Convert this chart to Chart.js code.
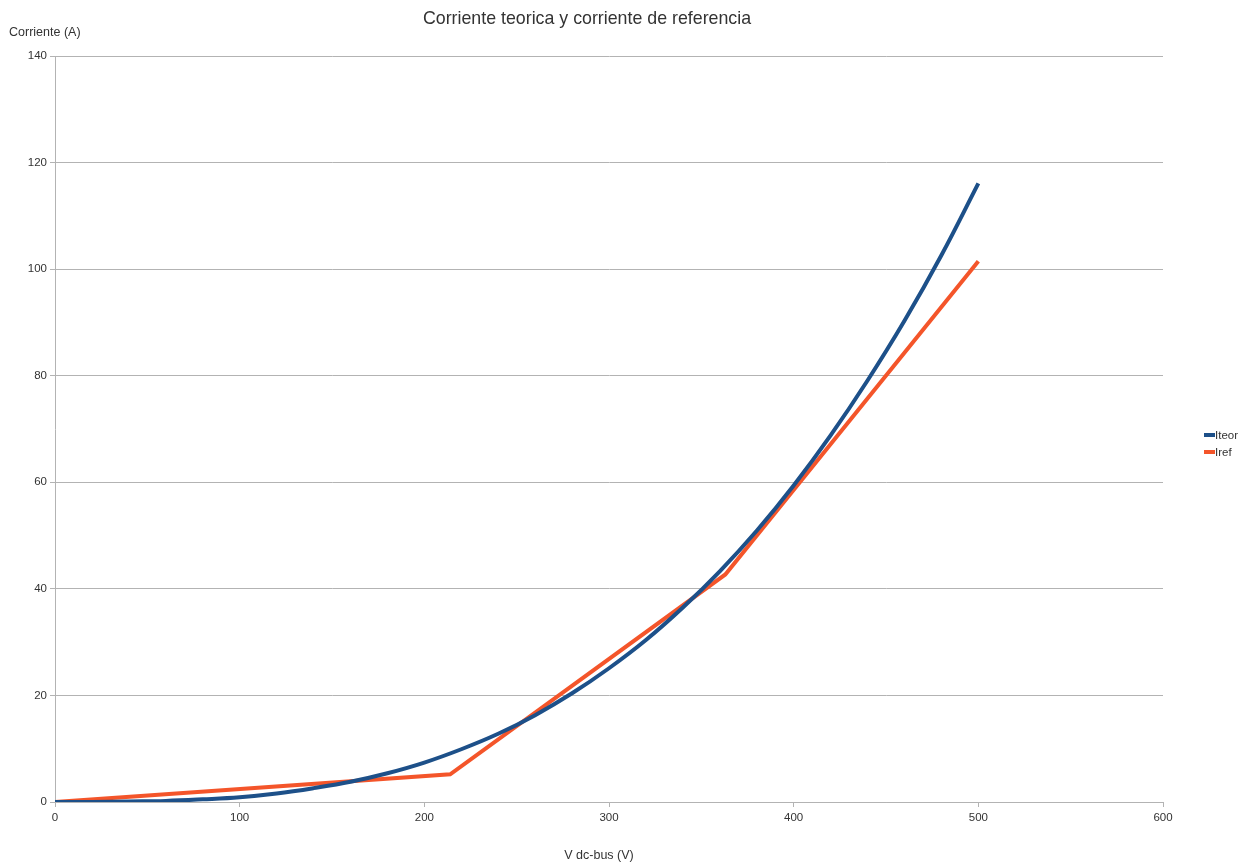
<!DOCTYPE html>
<html>
<head>
<meta charset="utf-8">
<script src="https://cdn.jsdelivr.net/npm/chart.js@4/dist/chart.umd.min.js"></script>
<style>
  html, body { margin: 0; padding: 0; background: #fff; }
  #wrap { width: 1247px; height: 863px; position: relative; }
</style>
</head>
<body>
<div id="wrap"><canvas id="chart" width="1247" height="863"></canvas></div>
<script>
/* ============================
   DATA
   ============================ */

const iteorX = [0, 20, 40, 60, 80, 100, 120, 140, 160, 180, 200, 220, 240,
                260, 280, 300, 320, 340, 360, 380, 400, 420, 440, 460, 480, 500];
const iteorY = [0, 0, 0.1, 0.2, 0.5, 0.9, 1.6, 2.6, 3.8, 5.4, 7.4, 9.9, 12.8,
                16.3, 20.4, 25.1, 30.4, 36.5, 43.3, 50.9, 59.4, 68.8, 79.1, 90.3, 102.6, 116.1];

const irefX = [0, 214, 363, 500];
const irefY = [0, 5.2, 42.7, 101.5];

const seriesNames = ["Iteor", "Iref"];
const seriesColors = ["#1d5089", "#f4552a"];

const xTicks = [0, 100, 200, 300, 400, 500, 600];
const yTicks = [0, 20, 40, 60, 80, 100, 120, 140];

const titleText = "Corriente teorica y corriente de referencia";
const yTitle = "Corriente (A)";
const xTitle = "V dc-bus (V)";

/* ============================
   HELPERS
   ============================ */

function toPoints(xs, ys) {
  return xs.map((x, i) => ({ x: x, y: ys[i] }));
}

const FONT = "'Liberation Sans', Arial, sans-serif";

// texts and legend drawn by hand (LibreOffice style layout)
const decorPlugin = {
  id: "decor",
  afterDraw(chart) {
    const ctx = chart.ctx;
    ctx.save();
    ctx.fillStyle = "#333";
    ctx.textBaseline = "middle";

    ctx.font = "17.8px " + FONT;
    ctx.textAlign = "center";
    ctx.fillText(titleText, 587, 19);

    ctx.font = "12.5px " + FONT;
    ctx.textAlign = "left";
    ctx.fillText(yTitle, 9, 33);

    ctx.textAlign = "center";
    ctx.fillText(xTitle, 599, 856);

    // legend
    ctx.font = "11.5px " + FONT;
    ctx.textAlign = "left";
    seriesNames.forEach((name, i) => {
      const y = 435 + i * 17;
      ctx.strokeStyle = seriesColors[i];
      ctx.lineWidth = 4;
      ctx.beginPath();
      ctx.moveTo(1204, y);
      ctx.lineTo(1215, y);
      ctx.stroke();
      ctx.fillStyle = "#333";
      ctx.fillText(name, 1215, y + 1);
    });
    ctx.restore();
  }
};

/* ============================
   CHART SETUP
   ============================ */

const ctx = document.getElementById("chart").getContext("2d");

const chart = new Chart(ctx, {
  type: "scatter",
  data: {
    datasets: [
      {
        label: seriesNames[0],
        data: toPoints(iteorX, iteorY),
        borderColor: seriesColors[0],
        backgroundColor: seriesColors[0],
        borderWidth: 4,
        showLine: true,
        pointRadius: 0,
        tension: 0.4,
        order: 1
      },
      {
        label: seriesNames[1],
        data: toPoints(irefX, irefY),
        borderColor: seriesColors[1],
        backgroundColor: seriesColors[1],
        borderWidth: 4,
        showLine: true,
        pointRadius: 0,
        tension: 0,
        order: 2
      }
    ]
  },
  options: {
    responsive: false,
    animation: false,
    layout: { padding: { top: 56, right: 84, left: 0, bottom: 0 } },
    plugins: {
      legend: { display: false },
      title: { display: false },
      tooltip: { enabled: false }
    },
    scales: {
      x: {
        type: "linear",
        min: 0,
        max: 600,
        afterFit(scale) { scale.height = 61; },
        afterBuildTicks(scale) { scale.ticks = xTicks.map(v => ({ value: v })); },
        grid: { display: true, drawOnChartArea: false, drawTicks: true, tickLength: 5, color: "#b3b3b3" },
        border: { color: "#b3b3b3" },
        ticks: { color: "#333", font: { family: FONT, size: 11.5 }, padding: 4, maxRotation: 0 }
      },
      y: {
        type: "linear",
        min: 0,
        max: 140,
        afterFit(scale) { scale.width = 55; },
        afterBuildTicks(scale) { scale.ticks = yTicks.map(v => ({ value: v })); },
        grid: { color: "#b3b3b3", tickLength: 5 },
        border: { color: "#b3b3b3" },
        ticks: { color: "#333", font: { family: FONT, size: 11.5 }, padding: 3 }
      }
    }
  },
  plugins: [decorPlugin]
});
</script>
</body>
</html>
